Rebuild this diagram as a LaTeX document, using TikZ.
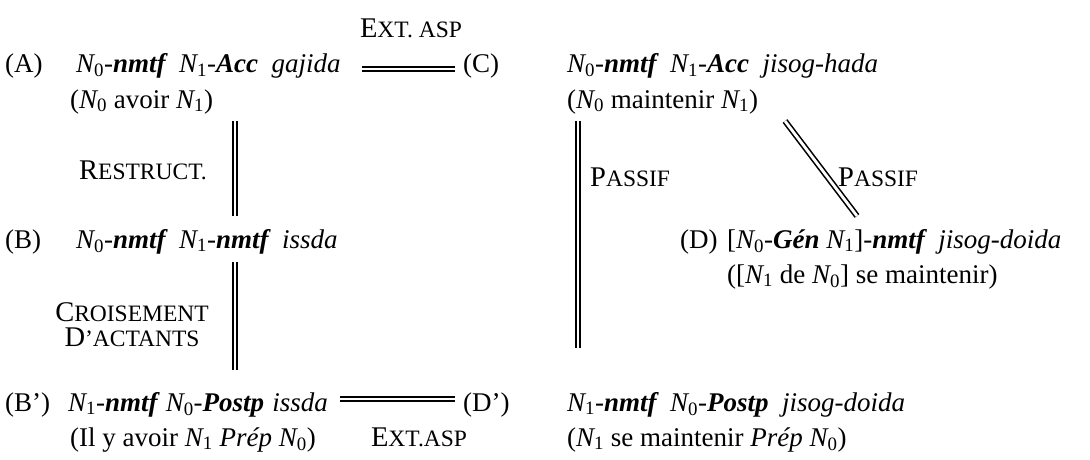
\documentclass[tikz,border=0pt]{standalone}
\usepackage{fontspec}
\setmainfont{Liberation Serif}
\newcommand\Ni[1]{{\itshape N}\textsubscript{\upshape #1}}
\newcommand\Nt[1]{N\textsubscript{\upshape #1}}
\newcommand\smc[1]{{\fontsize{23.5}{24}\selectfont #1}}
\newcommand\gap{\hspace{0.3em}}
\tikzset{
  txt/.style={anchor=base west, inner sep=0pt, font=\fontsize{27}{31}\selectfont},
  lab/.style={anchor=base, inner sep=0pt, font=\fontsize{28.5}{31}\selectfont, align=center},
  labw/.style={anchor=base west, inner sep=0pt, font=\fontsize{28.5}{31}\selectfont},
  dbl/.style={double, double distance=2.8pt, line width=1.6pt}
}
\begin{document}
\begin{tikzpicture}[x=1pt,y=-1pt]
\useasboundingbox[fill=white] (0,0) rectangle (1090,460);
% row A / C
\node[txt] (la) at (5,73) {(A)};
\node[txt] (a) at (76,73) {\itshape \Nt{0}-\textbf{nmtf}\ \ \Nt{1}-\textbf{Acc}\ \ gajida};
\node[txt] (a2) at (70,108) {(\Ni{0} avoir \Ni{1})};
\node[txt] (lc) at (463,73) {(C)};
\node[txt] (c) at (567,73) {\itshape \Nt{0}-\textbf{nmtf}\ \ \Nt{1}-\textbf{Acc}\ \ jisog-hada};
\node[txt] (c2) at (567,108) {(\Ni{0} maintenir \Ni{1})};
% row B / D
\node[txt] (lb) at (5,248) {(B)};
\node[txt] (b) at (76,248) {\itshape \Nt{0}-\textbf{nmtf}\ \ \Nt{1}-\textbf{nmtf}\ \ issda};
\node[txt] (ld) at (680,248) {(D)};
\node[txt] (d) at (727,248) {{\upshape[}\itshape\Nt{0}-\textbf{Gén} \Nt{1}{\upshape]}-\textbf{nmtf}\ \ jisog-doida};
\node[txt] (d2) at (727,283) {([\Ni{1} de \Ni{0}] se maintenir)};
% row B' / D'
\node[txt] (lbp) at (5,411) {(B’)};
\node[txt] (bp) at (68,411) {\itshape \Nt{1}-\textbf{nmtf}\gap\Nt{0}-\textbf{Postp}\gap issda};
\node[txt] (bp2) at (70,446) {(Il y avoir \Ni{1} \textit{Prép} \Ni{0})};
\node[txt] (ldp) at (463,411) {(D’)};
\node[txt] (dp) at (567,411) {\itshape \Nt{1}-\textbf{nmtf}\ \ \Nt{0}-\textbf{Postp}\ \ jisog-doida};
\node[txt] (dp2) at (567,446) {(\Ni{1} se maintenir \textit{Prép} \Ni{0})};
% relation labels
\node[lab] (ext1) at (411,38) {E\smc{XT. ASP}};
\node[lab] (res) at (143,179) {R\smc{ESTRUCT.}};
\node[labw] (pas1) at (590,186) {P\smc{ASSIF}};
\node[labw] (pas2) at (838,186) {P\smc{ASSIF}};
\node[lab] (cr) at (132,321) {C\smc{ROISEMENT}};
\node[lab] (da) at (132,346) {D\smc{’ACTANTS}};
\node[lab] (ext2) at (419,446) {E\smc{XT.ASP}};
% connector ends
\coordinate (ac1) at (362,69); \coordinate (ac2) at (455,69);
\coordinate (ab1) at (235,121); \coordinate (ab2) at (235,216);
\coordinate (bb1) at (235,262); \coordinate (bb2) at (235,370);
\coordinate (cd1) at (578,121); \coordinate (cd2) at (578,348);
\coordinate (cD1) at (785,121); \coordinate (cD2) at (857,216);
\coordinate (bd1) at (340,399); \coordinate (bd2) at (455,399);
\draw[dbl] (ac1) -- (ac2);
\draw[dbl] (ab1) -- (ab2);
\draw[dbl] (bb1) -- (bb2);
\draw[dbl] (cd1) -- (cd2);
\draw[dbl] (cD1) -- (cD2);
\draw[dbl] (bd1) -- (bd2);
\end{tikzpicture}
\end{document}
